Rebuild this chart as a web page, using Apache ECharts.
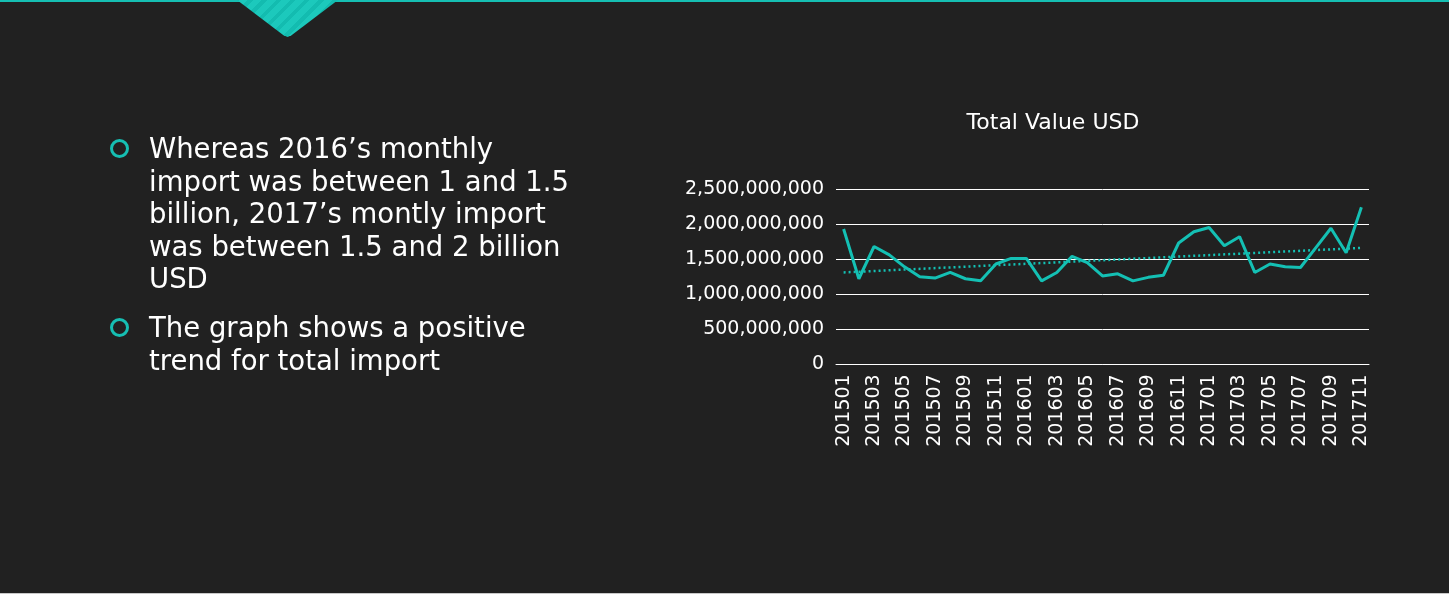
<!DOCTYPE html>
<html>
<head>
<meta charset="utf-8">
<script src="https://cdn.jsdelivr.net/npm/echarts@6/dist/echarts.min.js"></script>
<style>
html,body{margin:0;padding:0;width:1449px;height:594px;background:#212121;overflow:hidden;}
#topline{position:absolute;left:0;top:0;width:1449px;height:2px;background:#16bfb3;}
#tab{position:absolute;left:237px;top:0;width:101px;height:37px;
 clip-path:polygon(0 0,100% 0,54% 95%,50% 100%,46% 95%);
 background:repeating-linear-gradient(-45deg,#1cc9bc 0px,#1cc9bc 6px,#13bcb0 6px,#13bcb0 10px);}
#bottomline{position:absolute;left:0;top:593px;width:1449px;height:1px;background:#c8c8c8;}
#chart{position:absolute;left:0;top:0;width:1449px;height:594px;}
.bul{position:absolute;left:149px;color:#ffffff;font-family:"DejaVu Sans",sans-serif;font-size:27.5px;line-height:32.6px;white-space:nowrap;}
.dot{position:absolute;left:110px;width:13px;height:13px;border:3px solid #16bfb3;border-radius:50%;}
</style>
</head>
<body>
<div id="chart"></div>
<div id="topline"></div>
<div id="tab"></div>
<div id="bottomline"></div>
<div class="dot" style="top:139px"></div>
<div class="bul" style="top:132px">Whereas 2016’s monthly<br>import was between 1 and 1.5<br>billion, 2017’s montly import<br>was between 1.5 and 2 billion<br>USD</div>
<div class="dot" style="top:318px"></div>
<div class="bul" style="top:311px">The graph shows a positive<br>trend for total import</div>
<script>
const categories = ['201501','201502','201503','201504','201505','201506','201507','201508','201509','201510','201511','201512',
 '201601','201602','201603','201604','201605','201606','201607','201608','201609','201610','201611','201612',
 '201701','201702','201703','201704','201705','201706','201707','201708','201709','201710','201711'];
const totalValue = [1.93e9,1.22e9,1.68e9,1.56e9,1.39e9,1.25e9,1.23e9,1.31e9,1.22e9,1.19e9,1.43e9,1.51e9,
 1.51e9,1.19e9,1.31e9,1.54e9,1.45e9,1.26e9,1.29e9,1.19e9,1.24e9,1.27e9,1.73e9,1.89e9,
 1.95e9,1.69e9,1.82e9,1.31e9,1.43e9,1.39e9,1.38e9,1.66e9,1.94e9,1.59e9,2.24e9];
const trendEnds = [1.31e9, 1.66e9];
const yTicks = [0, 500000000, 1000000000, 1500000000, 2000000000, 2500000000];

const trendData = categories.map((c,i)=> i===0 ? trendEnds[0] : (i===categories.length-1 ? trendEnds[1] : null));
const chart = echarts.init(document.getElementById('chart'), null, {renderer:'canvas'});
const font = '"DejaVu Sans", sans-serif';
chart.setOption({
  backgroundColor:'transparent',
  animation:false,
  title:{text:'Total Value USD', left:1048, top:107, textAlign:'center',
    textStyle:{color:'#ffffff', fontFamily:font, fontSize:22, fontWeight:'normal'}},
  grid:{left:836, right:80, top:189, bottom:229.7, containLabel:false},
  xAxis:{type:'category', data:categories, boundaryGap:true,
    axisLine:{show:true, lineStyle:{color:'#ffffff', width:1}},
    axisTick:{show:false},
    axisLabel:{color:'#ffffff', rotate:90, interval:1, fontFamily:font, fontSize:19, margin:10}},
  yAxis:{type:'value', min:yTicks[0], max:yTicks[yTicks.length-1], interval:yTicks[1]-yTicks[0],
    axisLine:{show:false}, axisTick:{show:false},
    splitLine:{lineStyle:{color:'#ffffff', width:1}},
    axisLabel:{color:'#ffffff', fontFamily:font, fontSize:19, margin:12,
      formatter:v=>v.toLocaleString('en-US')}},
  series:[
    {type:'line', data:totalValue, symbol:'none', lineStyle:{color:'#14c0b4', width:3}, z:3},
    {type:'line', data:trendData, connectNulls:true, symbol:'none',
      lineStyle:{color:'#14c0b4', width:2.5, type:[2,3]}, z:2}
  ]
});
</script>
</body>
</html>
